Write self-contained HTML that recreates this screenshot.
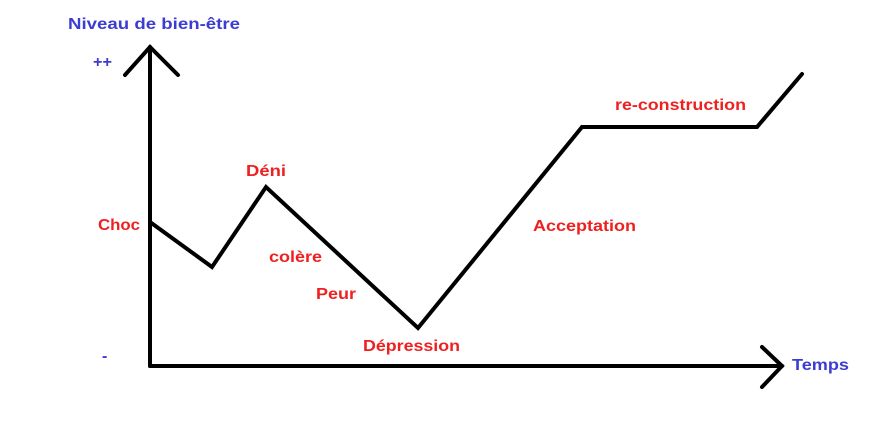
<!DOCTYPE html>
<html><head><meta charset="utf-8"><style>
html,body{margin:0;padding:0;background:#fff;}
svg{display:block;}
text{font-family:"Liberation Sans",sans-serif;font-weight:bold;font-size:16px;dominant-baseline:middle;}
.b{fill:#3c3cd2;}
.r{fill:#ee2020;}
</style></head><body>
<svg width="877" height="437" viewBox="0 0 877 437">
<g stroke="#000" stroke-width="4" fill="none" stroke-linejoin="miter" stroke-linecap="round">
<polyline points="150,366 150,47"/>
<polyline points="125,75 150,47 178,75"/>
<polyline points="150,366 782,366"/>
<polyline points="762,347 782,366 762,387"/>
<polyline points="150,222 212,267 266,187 418,328 582,127 757,127 802,74"/>
</g>
<text class="b" x="68" y="25" textLength="172" lengthAdjust="spacingAndGlyphs">Niveau de bien-être</text>
<text class="b" x="93" y="63" textLength="19" lengthAdjust="spacingAndGlyphs">++</text>
<text class="b" x="102" y="357">-</text>
<text class="b" x="792" y="366" textLength="57" lengthAdjust="spacingAndGlyphs">Temps</text>
<text class="r" x="98" y="226" textLength="42" lengthAdjust="spacingAndGlyphs">Choc</text>
<text class="r" x="246" y="172" textLength="40" lengthAdjust="spacingAndGlyphs">Déni</text>
<text class="r" x="269" y="258" textLength="53" lengthAdjust="spacingAndGlyphs">colère</text>
<text class="r" x="316" y="295" textLength="40" lengthAdjust="spacingAndGlyphs">Peur</text>
<text class="r" x="363" y="347" textLength="97" lengthAdjust="spacingAndGlyphs">Dépression</text>
<text class="r" x="533" y="227" textLength="103" lengthAdjust="spacingAndGlyphs">Acceptation</text>
<text class="r" x="615" y="106" textLength="131" lengthAdjust="spacingAndGlyphs">re-construction</text>
</svg>
</body></html>
